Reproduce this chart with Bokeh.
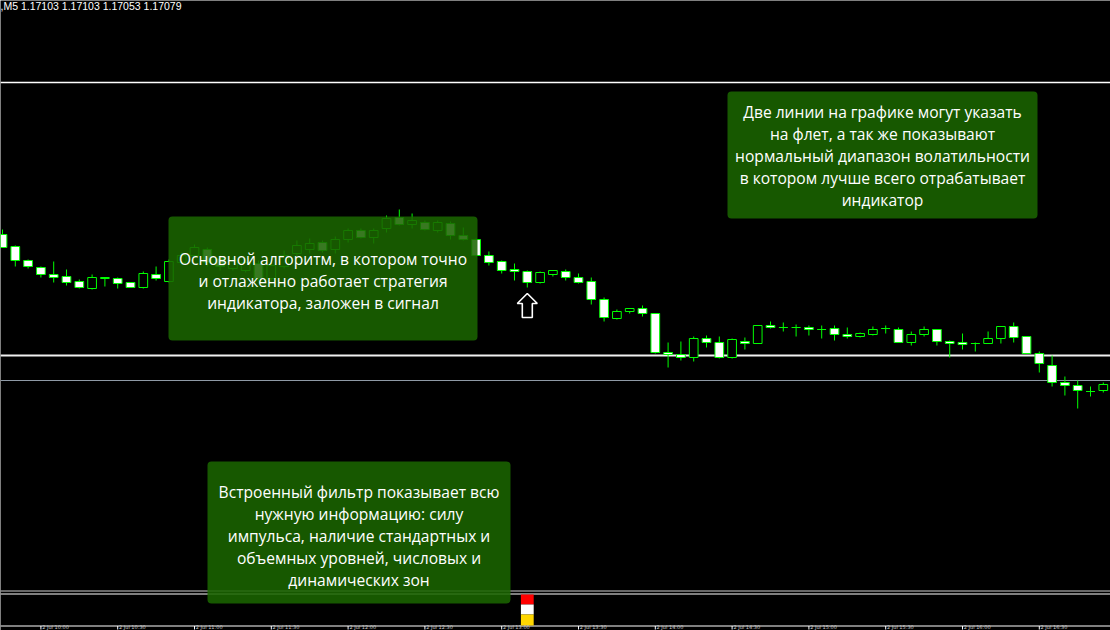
from bokeh.plotting import figure
from bokeh.models import Range1d, BoxAnnotation, Span, ColumnDataSource
from bokeh.core.properties import value
from bokeh.embed import file_html
from bokeh.resources import INLINE

# ---------------- data ----------------
header_text = ",M5  1.17103 1.17103 1.17053 1.17079"

opens = [1.17225, 1.17213, 1.17199, 1.17192, 1.17185, 1.17183, 1.17178, 1.17171, 1.17181, 1.17181,
         1.17177, 1.17172, 1.17185, 1.17178, 1.17197, 1.17204, 1.17210, 1.17201, 1.17191, 1.17189,
         1.17196, 1.17181, 1.17193, 1.17206, 1.17210, 1.17217, 1.17210, 1.17220, 1.17229, 1.17222,
         1.17231, 1.17242, 1.17235, 1.17237, 1.17229, 1.17236, 1.17224, 1.17220, 1.17204, 1.17198,
         1.17190, 1.17188, 1.17177, 1.17185, 1.17188, 1.17182, 1.17178, 1.17160, 1.17141, 1.17148,
         1.17151, 1.17146, 1.17107, 1.17105, 1.17102, 1.17121, 1.17117, 1.17102, 1.17118, 1.17116,
         1.17134, 1.17132, 1.17132, 1.17132, 1.17130, 1.17131, 1.17125, 1.17123, 1.17125, 1.17131,
         1.17130, 1.17117, 1.17125, 1.17130, 1.17118, 1.17117, 1.17116, 1.17116, 1.17121, 1.17133,
         1.17123, 1.17106, 1.17094, 1.17077, 1.17074, 1.17068, 1.17069]
highs = [1.17230, 1.17214, 1.17200, 1.17193, 1.17198, 1.17190, 1.17180, 1.17185, 1.17182, 1.17182,
         1.17177, 1.17188, 1.17193, 1.17200, 1.17207, 1.17215, 1.17212, 1.17204, 1.17202, 1.17201,
         1.17199, 1.17197, 1.17209, 1.17219, 1.17221, 1.17219, 1.17223, 1.17231, 1.17231, 1.17231,
         1.17244, 1.17250, 1.17246, 1.17239, 1.17239, 1.17238, 1.17232, 1.17221, 1.17208, 1.17199,
         1.17196, 1.17189, 1.17188, 1.17189, 1.17190, 1.17186, 1.17182, 1.17162, 1.17150, 1.17151,
         1.17154, 1.17146, 1.17117, 1.17118, 1.17123, 1.17124, 1.17123, 1.17121, 1.17122, 1.17134,
         1.17138, 1.17137, 1.17135, 1.17134, 1.17134, 1.17134, 1.17132, 1.17127, 1.17133, 1.17134,
         1.17132, 1.17128, 1.17133, 1.17130, 1.17119, 1.17126, 1.17117, 1.17128, 1.17133, 1.17137,
         1.17123, 1.17108, 1.17104, 1.17083, 1.17079, 1.17073, 1.17077]
lows = [1.17212, 1.17193, 1.17191, 1.17182, 1.17177, 1.17174, 1.17171, 1.17170, 1.17173, 1.17171,
        1.17172, 1.17171, 1.17179, 1.17177, 1.17195, 1.17202, 1.17193, 1.17189, 1.17189, 1.17187,
        1.17178, 1.17179, 1.17191, 1.17203, 1.17206, 1.17207, 1.17206, 1.17217, 1.17221, 1.17216,
        1.17227, 1.17234, 1.17231, 1.17229, 1.17227, 1.17220, 1.17219, 1.17203, 1.17194, 1.17186,
        1.17179, 1.17172, 1.17176, 1.17183, 1.17179, 1.17176, 1.17155, 1.17138, 1.17140, 1.17146,
        1.17143, 1.17106, 1.17092, 1.17099, 1.17098, 1.17112, 1.17101, 1.17101, 1.17110, 1.17116,
        1.17131, 1.17128, 1.17123, 1.17124, 1.17121, 1.17119, 1.17121, 1.17122, 1.17124, 1.17126,
        1.17117, 1.17114, 1.17123, 1.17114, 1.17102, 1.17110, 1.17108, 1.17116, 1.17116, 1.17117,
        1.17106, 1.17087, 1.17073, 1.17064, 1.17051, 1.17063, 1.17067]
closes = [1.17212, 1.17199, 1.17193, 1.17185, 1.17182, 1.17177, 1.17172, 1.17182, 1.17182, 1.17176,
          1.17172, 1.17186, 1.17181, 1.17198, 1.17204, 1.17212, 1.17197, 1.17193, 1.17199, 1.17197,
          1.17181, 1.17194, 1.17204, 1.17214, 1.17216, 1.17209, 1.17220, 1.17229, 1.17222, 1.17229,
          1.17241, 1.17235, 1.17239, 1.17230, 1.17237, 1.17224, 1.17220, 1.17204, 1.17197, 1.17189,
          1.17188, 1.17177, 1.17187, 1.17189, 1.17182, 1.17177, 1.17160, 1.17142, 1.17148, 1.17151,
          1.17146, 1.17107, 1.17105, 1.17102, 1.17121, 1.17117, 1.17102, 1.17120, 1.17116, 1.17134,
          1.17132, 1.17132, 1.17132, 1.17130, 1.17130, 1.17125, 1.17123, 1.17126, 1.17130, 1.17131,
          1.17117, 1.17125, 1.17130, 1.17118, 1.17116, 1.17115, 1.17116, 1.17121, 1.17133, 1.17122,
          1.17106, 1.17096, 1.17077, 1.17074, 1.17069, 1.17068, 1.17075]

level_upper = 1.17377
level_lower = 1.17104
bid_price = 1.17079

signal_bar = 41
signal_colors = ["#ff0000", "#ffffff", "#ffd700"]

tick_bars = [3, 9, 15, 21, 27, 33, 39, 45, 51, 57, 63, 69, 75, 81]
tick_labels = ["2 Jul 10:00", "2 Jul 10:30", "2 Jul 11:00", "2 Jul 11:30", "2 Jul 12:00",
               "2 Jul 12:30", "2 Jul 13:00", "2 Jul 13:30", "2 Jul 14:00", "2 Jul 14:30",
               "2 Jul 15:00", "2 Jul 15:30", "2 Jul 16:00", "2 Jul 16:30"]

note1 = ["Основной алгоритм, в котором точно",
         "и отлаженно работает стратегия",
         "индикатора, заложен в сигнал"]
note2 = ["Две линии на графике могут указать",
         "на флет, а так же показывают",
         "нормальный диапазон волатильности",
         "в котором лучше всего отрабатывает",
         "индикатор"]
note3 = ["Встроенный фильтр показывает всю",
         "нужную информацию: силу",
         "импульса, наличие стандартных и",
         "объемных уровней, числовых и",
         "динамических зон"]

# ---------------- layout helpers ----------------
W, H = 1110, 630
BAR_PX = 12.8
BAR0_PX = 2.0
TOP_PRICE = 1.17459
PRICE_PER_PX = 0.00001


def bx(px):
    return (px - BAR0_PX) / BAR_PX


def py(pix):
    return TOP_PRICE - pix * PRICE_PER_PX


GREEN = "#00ff00"

p = figure(width=W, height=H, x_range=Range1d(bx(0), bx(W)), y_range=Range1d(py(H), py(0)),
           output_backend="svg", toolbar_location=None, x_axis_location=None, y_axis_location=None,
           min_border=0, background_fill_color="black", border_fill_color="black",
           outline_line_color=None)
p.grid.visible = False

# horizontal lines
p.add_layout(Span(location=level_upper, dimension="width", line_color="white", line_width=1.5, level="underlay"))
p.add_layout(Span(location=level_lower, dimension="width", line_color="#f0f0f0", line_width=2, level="underlay"))
p.add_layout(Span(location=bid_price, dimension="width", line_color="#8f9aa6", line_width=1, level="underlay"))
p.add_layout(Span(location=py(590.5), dimension="width", line_color="#cfcfcf", line_width=1, level="underlay"))
p.add_layout(Span(location=py(593.5), dimension="width", line_color="#ffffff", line_width=1, level="underlay"))
p.add_layout(Span(location=py(625.5), dimension="width", line_color="#ffffff", line_width=1, level="underlay"))

# candles
bars = list(range(len(opens)))
tops = [max(o, c) for o, c in zip(opens, closes)]
bots = [min(o, c) for o, c in zip(opens, closes)]
fills = ["black" if c >= o else "white" for o, c in zip(opens, closes)]
src = ColumnDataSource(dict(x=bars, o=opens, h=highs, l=lows, c=closes, top=tops, bottom=bots, fill=fills))
p.segment(x0="x", y0="l", x1="x", y1="h", line_color=GREEN, line_width=1, source=src)
p.vbar(x="x", width=0.68, top="top", bottom="bottom", fill_color="fill", line_color=GREEN,
       line_width=1, source=src)

# signal arrow under the signal bar
ax = signal_bar
aw = 10 / BAR_PX
sw = 5 / BAR_PX
ylow = lows[signal_bar]
tip = ylow - 6 * PRICE_PER_PX
base = ylow - 16 * PRICE_PER_PX
bottom = ylow - 30 * PRICE_PER_PX
p.patch(x=[ax, ax + aw, ax + sw, ax + sw, ax - sw, ax - sw, ax - aw],
        y=[tip, base, base, bottom, bottom, base, base],
        fill_color="black", line_color="white", line_width=1.6)

# indicator sub-window bar
bands = [(594, 604), (604, 614), (614, 625)]
p.quad(left=[signal_bar - 0.5] * 3, right=[signal_bar + 0.5] * 3,
       top=[py(a) for a, b in bands], bottom=[py(b) for a, b in bands],
       fill_color=signal_colors, line_color=None)

# time axis ticks and labels (tiny, sitting under the axis line)
p.segment(x0=tick_bars, x1=tick_bars, y0=[py(625.5)] * len(tick_bars), y1=[py(629)] * len(tick_bars),
          line_color="white", line_width=1)
p.text(x=[t + 0.1 for t in tick_bars], y=[py(629.8)] * len(tick_bars), text=tick_labels,
       text_color="#c8c8c8", text_font=value("DejaVu Sans"), text_font_size="5px",
       text_baseline="bottom", text_align="left")

# header
p.text(x=[bx(0)], y=[py(5.5)], text=[header_text], text_color="white",
       text_font=value("Liberation Sans"), text_font_size="10.5px", text_baseline="alphabetic",
       text_align="left")

# notes
BOX_COLOR = "#1a6500"


def add_note(left, top, right, bottom_px, lines, first_y, dy=22):
    p.add_layout(BoxAnnotation(left=bx(left), right=bx(right), top=py(top), bottom=py(bottom_px),
                               fill_color=BOX_COLOR, fill_alpha=0.87, line_color=None,
                               border_radius=4))
    cx = bx((left + right) / 2)
    p.text(x=[cx] * len(lines), y=[py(first_y + k * dy) for k in range(len(lines))], text=lines,
           text_color="white", text_font=value("Open Sans"), text_font_size="15.6px",
           text_align="center", text_baseline="middle", level="overlay")


add_note(168, 216, 477, 340, note1, 258)
add_note(727, 91, 1037, 218, note2, 111.5)
add_note(207, 461, 510, 603, note3, 491)

open("out.html", "w").write(file_html(p, INLINE))
